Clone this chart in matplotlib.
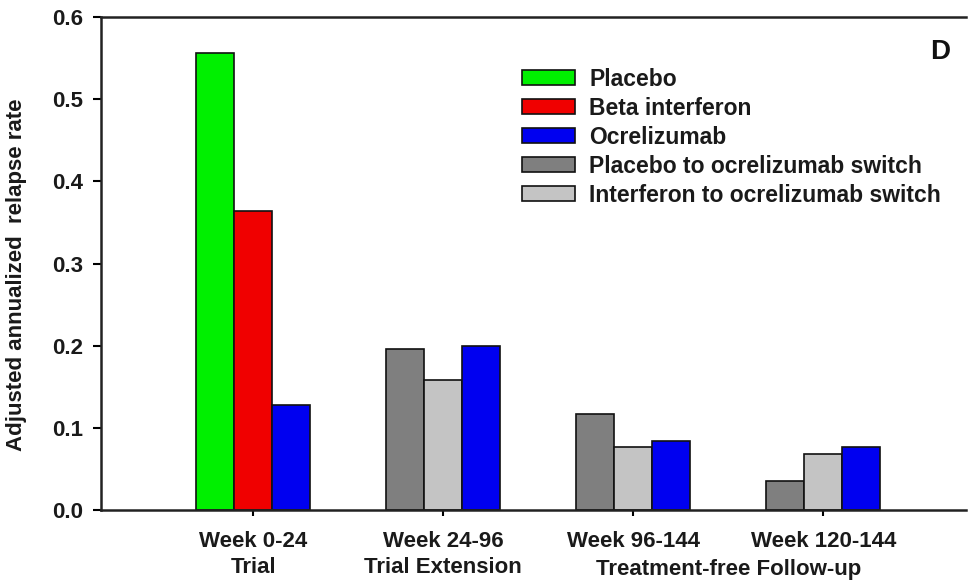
import numpy as np
import matplotlib
matplotlib.use("Agg")
import matplotlib.pyplot as plt
from matplotlib.patches import Patch

plt.rcParams['font.family'] = ['Liberation Sans', 'DejaVu Sans']
plt.rcParams['font.weight'] = 'bold'

nan = np.nan
groups = ["Week 0-24\nTrial", "Week 24-96\nTrial Extension", "Week 96-144", "Week 120-144"]
placebo = [0.556, nan, nan, nan]
beta_interferon = [0.364, nan, nan, nan]
ocrelizumab = [0.128, 0.200, 0.084, 0.077]
placebo_switch = [nan, 0.196, 0.117, 0.035]
interferon_switch = [nan, 0.158, 0.077, 0.068]
yticks = [0.0, 0.1, 0.2, 0.3, 0.4, 0.5, 0.6]

c_green = "#00F000"
c_red = "#F00000"
c_blue = "#0000F0"
c_dgray = "#7F7F7F"
c_lgray = "#C4C4C4"

fig = plt.figure(figsize=(9.68, 5.81), dpi=100)
ax = fig.add_axes([101/968, 1 - 510/581, (966-101)/968, (510-17)/581])

x = np.arange(len(groups))
w = 0.2
kw = dict(width=w, edgecolor="#111111", linewidth=1.2)
ax.bar(x - w, placebo, color=c_green, **kw)
ax.bar(x, beta_interferon, color=c_red, **kw)
ax.bar(x - w, placebo_switch, color=c_dgray, **kw)
ax.bar(x, interferon_switch, color=c_lgray, **kw)
ax.bar(x + w, ocrelizumab, color=c_blue, **kw)

ax.set_xlim(-0.8, 3.75)
ax.set_ylim(0, 0.6)
ax.set_yticks(yticks)
ax.set_yticklabels([f"{v:.1f}" for v in yticks])
ax.set_xticks(x)
ax.set_xticklabels(groups, fontsize=16, fontweight='bold', color='#1a1a1a', linespacing=1.3)
ax.tick_params(axis='y', labelsize=16, width=1.5, length=6, pad=7, direction='out',
               labelcolor='#1a1a1a')
ax.tick_params(axis='x', width=1.5, length=4, direction='out', pad=11)
for s in ['left', 'top', 'bottom']:
    ax.spines[s].set_linewidth(1.8)
    ax.spines[s].set_color('#222222')
ax.spines['right'].set_visible(False)

ax.set_ylabel("Adjusted annualized  relapse rate", fontsize=16, fontweight='bold', color='#1a1a1a')
ax.yaxis.set_label_coords(-0.0855, 0.477)

ax.annotate("Treatment-free Follow-up", xy=(2.5, 0), xycoords=('data', 'axes fraction'),
            xytext=(0, -35), textcoords='offset points', ha='center', va='top',
            fontsize=16, fontweight='bold', color='#1a1a1a', annotation_clip=False)

ax.text(0.970, 0.93, "D", transform=ax.transAxes, fontsize=20, fontweight='bold',
        ha='center', va='center', color='#111111')

handles = [Patch(facecolor=c, edgecolor='#111111', linewidth=1.2)
           for c in [c_green, c_red, c_blue, c_dgray, c_lgray]]
labels = ["Placebo", "Beta interferon", "Ocrelizumab", "Placebo to ocrelizumab switch",
          "Interferon to ocrelizumab switch"]
leg = ax.legend(handles, labels, loc='upper left', bbox_to_anchor=(0.487, 0.897), frameon=False,
                fontsize=16.5, handlelength=2.3, handleheight=0.6, labelspacing=0.26,
                handletextpad=0.62, borderaxespad=0, borderpad=0)
for t in leg.get_texts():
    t.set_color('#1a1a1a')

fig.savefig("out.png", dpi=100)
